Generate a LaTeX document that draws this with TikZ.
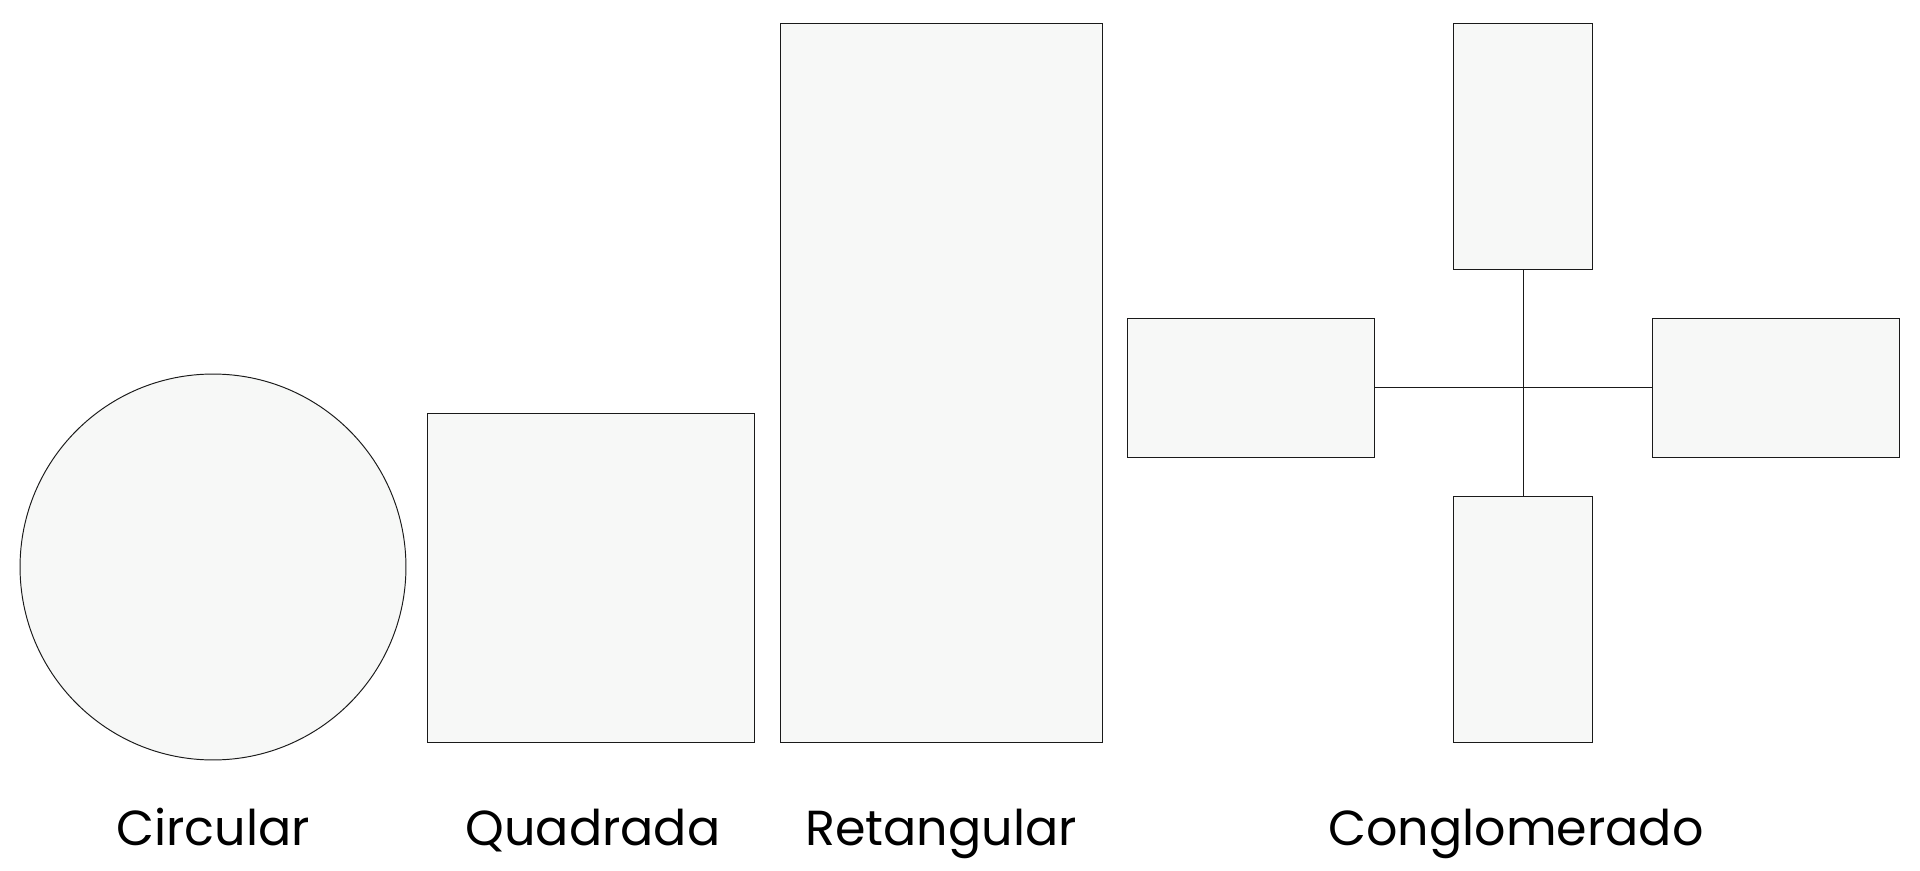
\documentclass[tikz,border=0pt]{standalone}
\usepackage{fontspec}
\setmainfont{Poppins}
\usepackage{tikz}
\usetikzlibrary{positioning}
\definecolor{FormFill}{HTML}{F7F8F7}
\definecolor{FormInk}{HTML}{1A1A1A}

\begin{document}
\begin{tikzpicture}[
  x=0.02cm, y=-0.02cm,
  form/.style={fill=FormFill, draw=FormInk, line width=0.55pt, inner sep=0pt},
  box/.style={form, rectangle, anchor=north west},
  caption/.style={font=\fontsize{28}{32}\selectfont, anchor=base, color=black},
  connector/.style={line width=0.55pt, color=FormInk},
]

% --- Canvas ---
\useasboundingbox (0,0) rectangle (1920,871);

% --- Circular ---
\node[form, circle, minimum size=7.72cm] (circ) at (213,567) {};
\node[caption] (circ-lab) at (213,845) {Circular};

% --- Quadrada ---
\node[box, minimum width=6.54cm, minimum height=6.58cm] (quad) at (427,413) {};
\node[caption] (quad-lab) at (593,845) {Quadrada};

% --- Retangular ---
\node[box, minimum width=6.44cm, minimum height=14.38cm] (ret) at (780,23) {};
\node[caption] (ret-lab) at (941,845) {Retangular};

% --- Conglomerado ---
\node[box, minimum width=2.78cm, minimum height=4.92cm] (c-top) at (1453,23) {};
\node[box, minimum width=2.78cm, minimum height=4.92cm] (c-bot) at (1453,496) {};
\node[box, minimum width=4.94cm, minimum height=2.78cm] (c-left) at (1127,318) {};
\node[box, minimum width=4.94cm, minimum height=2.78cm] (c-right) at (1652,318) {};
\draw[connector] (c-top.south) -- (c-bot.north);
\draw[connector] (c-left.east) -- (c-right.west);
\node[caption] (cong-lab) at (1516,845) {Conglomerado};

\end{tikzpicture}
\end{document}
